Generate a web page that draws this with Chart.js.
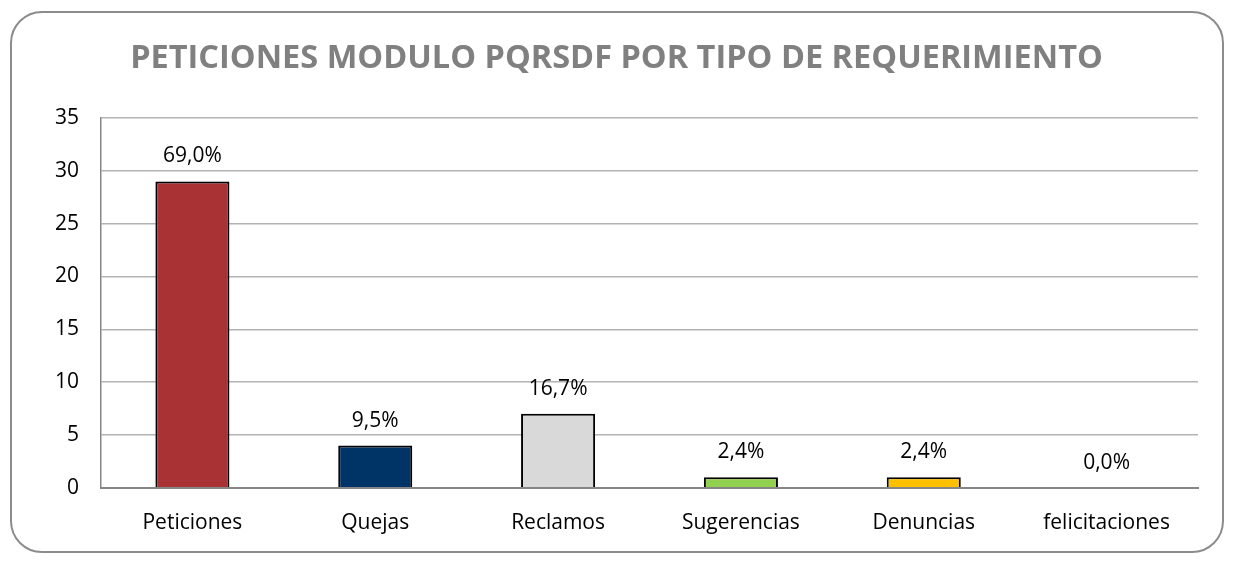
<!DOCTYPE html>
<html><head><meta charset="utf-8">
<script src="https://cdn.jsdelivr.net/npm/chart.js@4.4.1/dist/chart.umd.min.js"></script>
<style>
html,body{margin:0;padding:0;background:#fff;}
#wrap{position:relative;width:1233px;height:564px;overflow:hidden;}
#frame{position:absolute;left:10px;top:11px;width:1214px;height:542px;border:2px solid #8c8c8c;border-radius:32px;box-sizing:border-box;}
#c{position:absolute;left:0;top:0;}
</style>
</head><body>
<div id="wrap"><div id="frame"></div><canvas id="c" width="1233" height="564"></canvas></div>
<script>
const title = 'PETICIONES MODULO PQRSDF POR TIPO DE REQUERIMIENTO';
const categories = ['Peticiones','Quejas','Reclamos','Sugerencias','Denuncias','felicitaciones'];
const values = [29, 4, 7, 1, 1, 0];
const percentLabels = ['69,0%','9,5%','16,7%','2,4%','2,4%','0,0%'];
const yTicks = [0,5,10,15,20,25,30,35];
const barColors = ['#A83234','#003366','#D9D9D9','#92D050','#FFC000','#4F81BD'];

const FONT = '"Open Sans", sans-serif';

const labelPlugin = {
  id: 'pctLabels',
  afterDatasetsDraw(chart){
    const ctx = chart.ctx;
    const meta = chart.getDatasetMeta(0);
    ctx.save();
    ctx.font = '21px ' + FONT;
    ctx.fillStyle = '#000';
    ctx.textAlign = 'center';
    ctx.textBaseline = 'middle';
    meta.data.forEach((bar, i) => {
      ctx.fillText(percentLabels[i], bar.x, bar.y - 25);
    });
    ctx.restore();
  }
};

new Chart(document.getElementById('c'), {
  type: 'bar',
  data: {
    labels: categories,
    datasets: [{
      data: values,
      backgroundColor: barColors,
      borderColor: '#000',
      borderWidth: 2,
      borderSkipped: 'bottom',
      barPercentage: 0.405,
      categoryPercentage: 1.0
    }]
  },
  options: {
    responsive: false,
    animation: false,
    layout: { padding: { left: 35, right: 35, top: 39, bottom: 5 } },
    plugins: {
      legend: { display: false },
      tooltip: { enabled: false },
      title: {
        display: true,
        text: title,
        color: '#808080',
        font: { family: FONT, size: 32.5, weight: 'bold' },
        padding: { top: 0, bottom: 40 }
      }
    },
    scales: {
      x: {
        grid: { display: false, drawTicks: false },
        border: { color: '#868686', width: 2 },
        ticks: { color: '#000', font: { family: FONT, size: 21 }, padding: 23 }
      },
      y: {
        min: 0, max: 35,
        afterBuildTicks(scale){ scale.ticks = yTicks.map(v => ({ value: v })); },
        afterFit(scale){ scale.width = 66; },
        grid: { color: '#b3b3b3', lineWidth: 1.5, drawTicks: false },
        border: { color: '#868686', width: 1.5 },
        ticks: { color: '#000', font: { family: FONT, size: 21 }, padding: 22 }
      }
    }
  },
  plugins: [labelPlugin]
});
</script>
</body></html>
